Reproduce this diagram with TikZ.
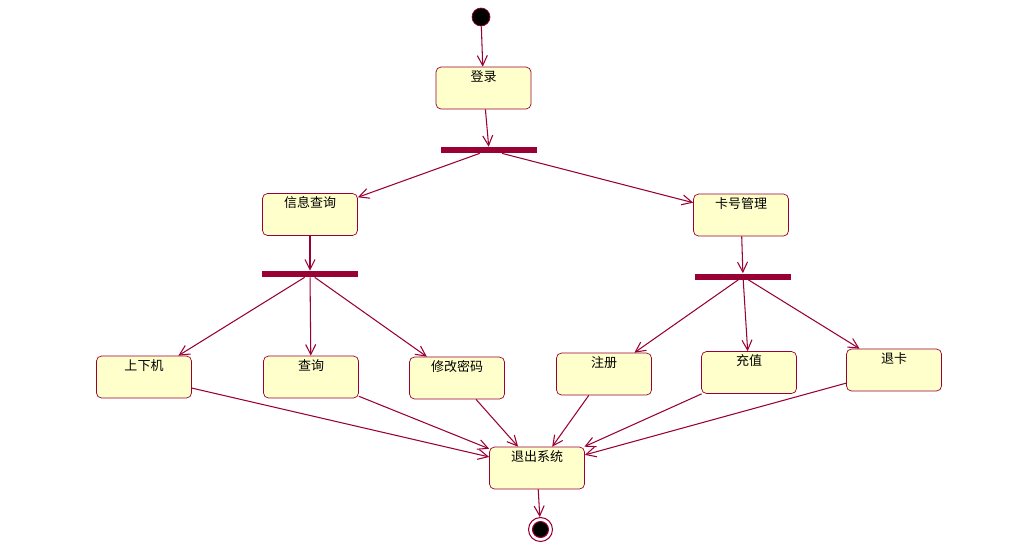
\documentclass[tikz,border=0pt]{standalone}
\usepackage{fontspec}
\newfontfamily\cjk{Noto Sans CJK SC}
\usetikzlibrary{arrows.meta}
\definecolor{rose}{RGB}{153,0,51}
\definecolor{paper}{RGB}{255,255,204}

\begin{document}
\begin{tikzpicture}[x=0.02cm,y=-0.02cm,
    state/.style={draw=rose, fill=paper, rounded corners=0.1cm, inner sep=0pt,
      minimum width=1.9cm, text height=0.28cm, text depth=0.56cm,
      font=\cjk\fontsize{7.4}{8}\selectfont},
    bar/.style={fill=rose, inner sep=0pt, minimum width=1.92cm, minimum height=0.12cm},
    flow/.style={draw=rose, line width=0.6pt, -{Straight Barb[length=0.2cm,width=0.2cm]}}]
      \useasboundingbox (0,0) rectangle (1016,552);

      \node (0) at (481,17) [circle, draw=rose, fill=black, inner sep=0pt, minimum size=0.36cm] {};
      \node (1) at (483.5,88) [state] {登录};
      \node (2) at (489,150) [bar] {};
      \node (3) at (310,214.5) [state] {信息查询};
      \node (4) at (741,215) [state] {卡号管理};
      \node (5) at (310,274) [bar] {};
      \node (6) at (743,276.5) [bar] {};
      \node (7) at (144,377) [state] {上下机};
      \node (8) at (311,377) [state] {查询};
      \node (9) at (457,378) [state] {修改密码};
      \node (10) at (604,374) [state] {注册};
      \node (11) at (749,372.5) [state] {充值};
      \node (12) at (894,370) [state] {退卡};
      \node (13) at (537,468) [state] {退出系统};
      \node (14) at (540.5,529.5) [circle, draw=rose, line width=0.6pt, inner sep=0pt, minimum size=0.48cm,
        path picture={\fill[black, draw=rose] (path picture bounding box.center) circle (0.16cm);}] {};

      \draw[flow]
      (0) edge (1)
      (1) edge (2)
      (2) edge (3)
      (2) edge (4)
      (3) edge (5)
      (4) edge (6)
      (5) edge (7)
      (5) edge (8)
      (5) edge (9)
      (6) edge (10)
      (6) edge (11)
      (6) edge (12)
      (7) edge (13)
      (8) edge (13)
      (9) edge (13)
      (10) edge (13)
      (11) edge (13)
      (12) edge (13)
      (13) edge (14);
    \end{tikzpicture}
\end{document}
